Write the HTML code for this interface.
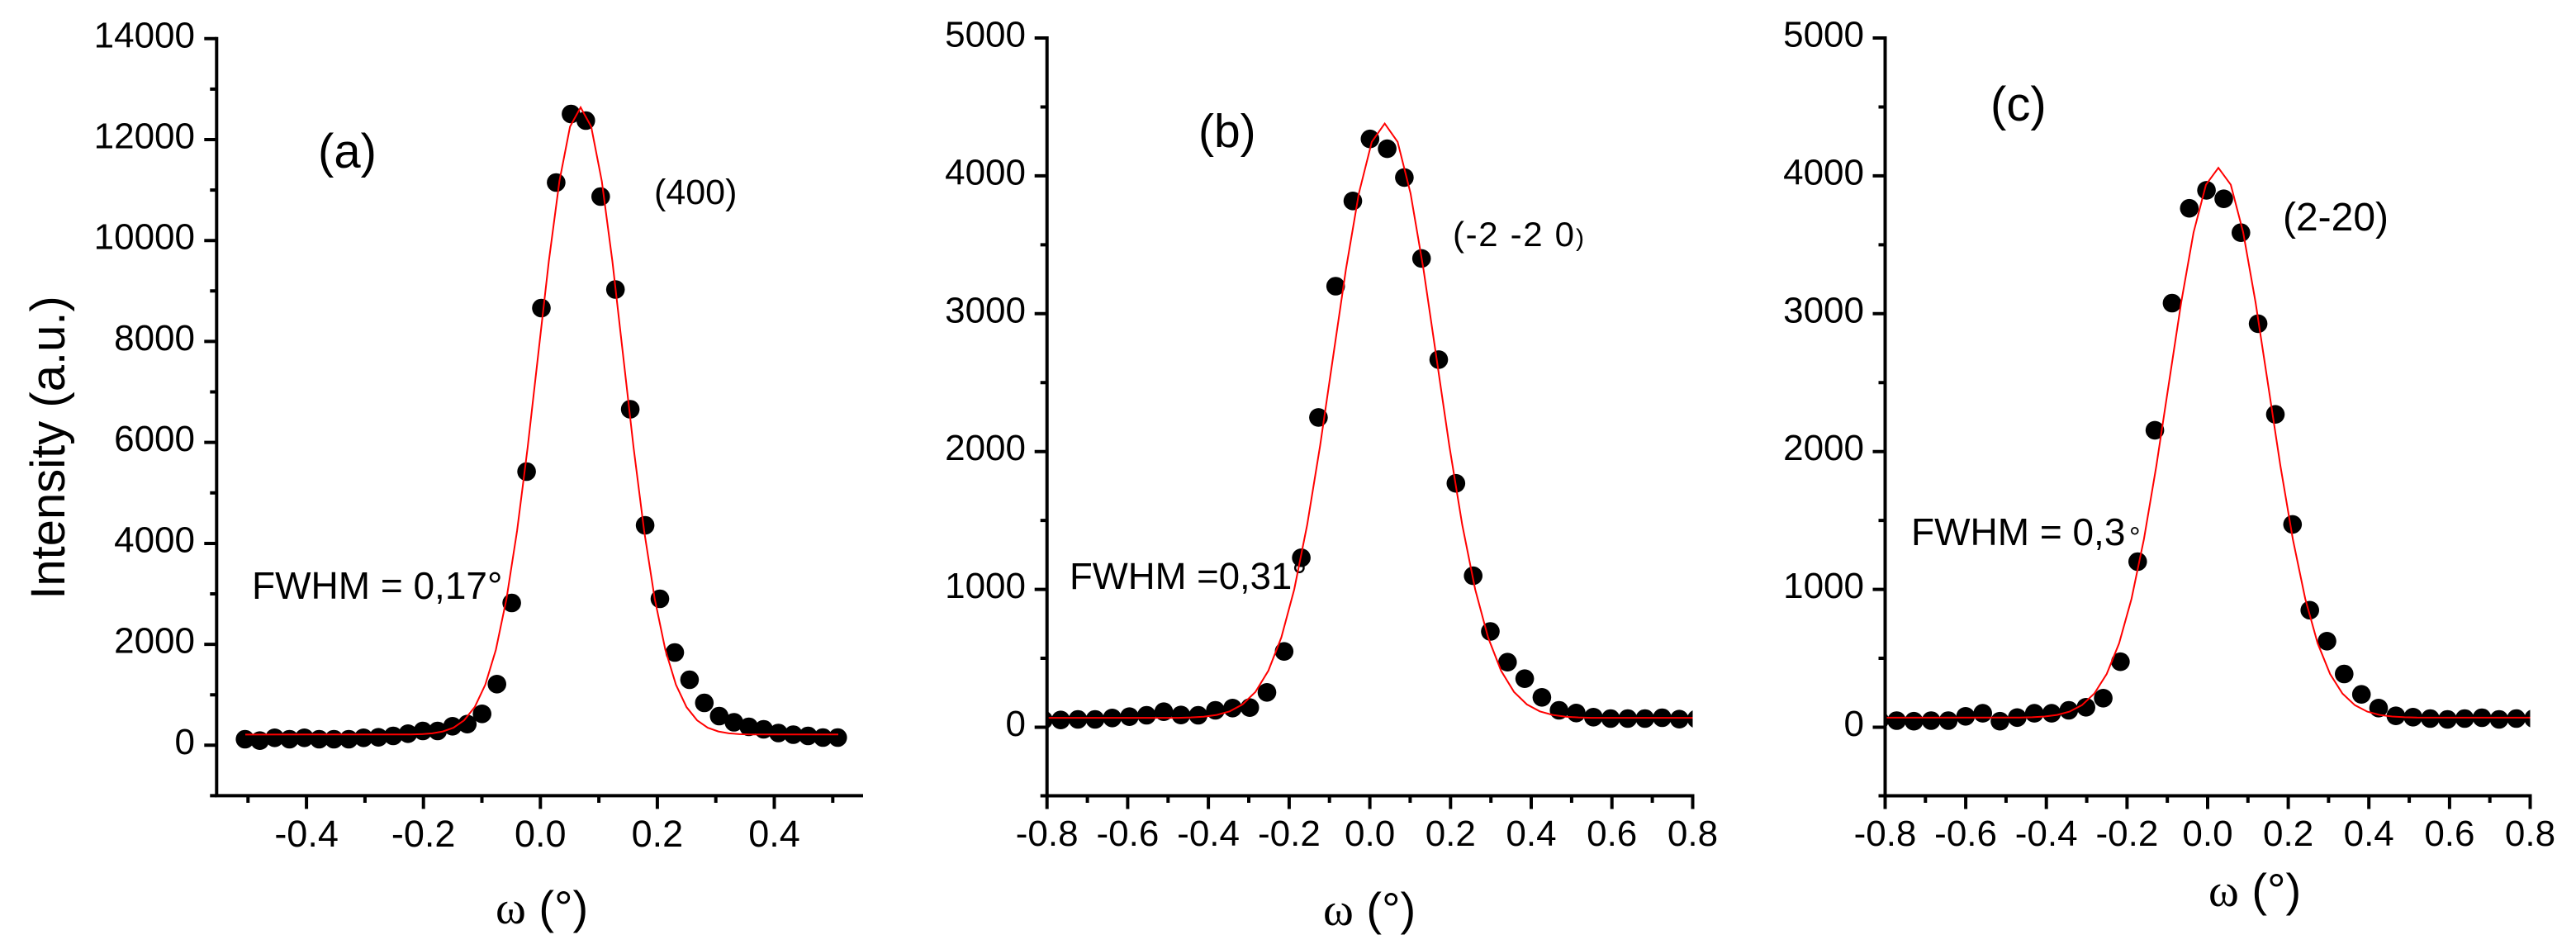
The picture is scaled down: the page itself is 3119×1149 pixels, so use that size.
<!DOCTYPE html>
<html><head><meta charset="utf-8"><style>
html,body{margin:0;padding:0;background:#fff;}
svg{display:block;}
text{font-family:"Liberation Sans",Arial,sans-serif;fill:#000;}
.s{font-family:"Liberation Serif","Times New Roman",serif;}
</style></head><body>
<svg width="3119" height="1149" viewBox="0 0 3119 1149" xmlns="http://www.w3.org/2000/svg">
<rect width="3119" height="1149" fill="#fff"/>
<defs>
<clipPath id="ca"><rect x="297" y="40" width="718" height="924"/></clipPath>
<clipPath id="cb"><rect x="1267.7" y="40" width="781.8" height="923.5"/></clipPath>
<clipPath id="cc"><rect x="2282.5" y="40" width="781" height="923.5"/></clipPath>
</defs>

<!-- ================= PANEL A ================= -->
<g font-size="44" text-anchor="end">
<text x="236" y="912.8">0</text>
<text x="236" y="790.6">2000</text>
<text x="236" y="668.5">4000</text>
<text x="236" y="546.1">6000</text>
<text x="236" y="423.9">8000</text>
<text x="236" y="301.7">10000</text>
<text x="236" y="179.5">12000</text>
<text x="236" y="57.3">14000</text>
</g>
<g font-size="45" text-anchor="middle">
<text x="371.1" y="1025">-0.4</text>
<text x="512.7" y="1025">-0.2</text>
<text x="654.3" y="1025">0.0</text>
<text x="795.9" y="1025">0.2</text>
<text x="937.5" y="1025">0.4</text>
</g>
<text font-size="58" text-anchor="middle" transform="translate(78,542) rotate(-90)">Intensity (a.u.)</text>
<text x="600" y="1118" font-size="56"><tspan class="s">ω</tspan> (°)</text>
<text x="385" y="203" font-size="58">(a)</text>
<text x="792" y="247" font-size="43">(400)</text>
<text x="305" y="725" font-size="46">FWHM = 0,17°</text>

<g fill="#000">
<circle cx="296.7" cy="895" r="11.3"/><circle cx="314.6" cy="896.7" r="11.3"/><circle cx="332.6" cy="893.3" r="11.3"/><circle cx="350.5" cy="895" r="11.3"/><circle cx="368.5" cy="893.3" r="11.3"/><circle cx="386.4" cy="895" r="11.3"/><circle cx="404.3" cy="895" r="11.3"/><circle cx="422.3" cy="895" r="11.3"/><circle cx="440.2" cy="893.3" r="11.3"/><circle cx="458.2" cy="892.7" r="11.3"/><circle cx="476.1" cy="891" r="11.3"/><circle cx="494" cy="888.3" r="11.3"/><circle cx="512" cy="885" r="11.3"/><circle cx="529.9" cy="885" r="11.3"/><circle cx="547.9" cy="879.3" r="11.3"/><circle cx="565.8" cy="876.7" r="11.3"/><circle cx="583.7" cy="864.3" r="11.3"/><circle cx="601.7" cy="828.3" r="11.3"/><circle cx="619.6" cy="730" r="11.3"/><circle cx="637.6" cy="571" r="11.3"/><circle cx="655.5" cy="373" r="11.3"/><circle cx="673.4" cy="221" r="11.3"/><circle cx="691.4" cy="138" r="11.3"/><circle cx="709.3" cy="146" r="11.3"/><circle cx="727.3" cy="238" r="11.3"/><circle cx="745.2" cy="350.5" r="11.3"/><circle cx="763.1" cy="495.5" r="11.3"/><circle cx="781.1" cy="636" r="11.3"/><circle cx="799" cy="725" r="11.3"/><circle cx="817" cy="790" r="11.3"/><circle cx="834.9" cy="823" r="11.3"/><circle cx="852.8" cy="851" r="11.3"/><circle cx="870.8" cy="867" r="11.3"/><circle cx="888.7" cy="874.5" r="11.3"/><circle cx="906.7" cy="880" r="11.3"/><circle cx="924.6" cy="883" r="11.3"/><circle cx="942.5" cy="887.5" r="11.3"/><circle cx="960.5" cy="889.5" r="11.3"/><circle cx="978.4" cy="891" r="11.3"/><circle cx="996.4" cy="893" r="11.3"/><circle cx="1014.3" cy="893" r="11.3"/>
</g>
<g clip-path="url(#ca)">
<path fill="none" stroke="#ff0000" stroke-width="2" vector-effect="non-scaling-stroke" transform="translate(703,889.5) scale(51.3,-759.5)"
d="M-20,0 L-4,0.0003 -3.75,0.0009 -3.5,0.0022 -3.25,0.0051 -3,0.0111 -2.75,0.0228 -2.5,0.0439 -2.25,0.0796 -2,0.1353 -1.75,0.2163 -1.5,0.3247 -1.25,0.4578 -1,0.6065 -0.75,0.7548 -0.5,0.8825 -0.25,0.9692 0,1 0.25,0.9692 0.5,0.8825 0.75,0.7548 1,0.6065 1.25,0.4578 1.5,0.3247 1.75,0.2163 2,0.1353 2.25,0.0796 2.5,0.0439 2.75,0.0228 3,0.0111 3.25,0.0051 3.5,0.0022 3.75,0.0009 4,0.0003 20,0"/>
</g>
<g stroke="#000" stroke-width="4" fill="none">
<path d="M262.3,44.8V965.4M260.3,963.4H1045"/>
<path d="M247.3,902.3H262.3M247.3,780.1H262.3M247.3,658H262.3M247.3,535.6H262.3M247.3,413.4H262.3M247.3,291.2H262.3M247.3,169H262.3M247.3,46.8H262.3"/>
<path d="M254.3,963.4H262.3M254.3,841.2H262.3M254.3,719H262.3M254.3,596.8H262.3M254.3,474.5H262.3M254.3,352.3H262.3M254.3,230.1H262.3M254.3,107.9H262.3"/>
<path d="M371.1,963.4V979.4M512.7,963.4V979.4M654.3,963.4V979.4M795.9,963.4V979.4M937.5,963.4V979.4"/>
<path d="M300.3,963.4V972M441.9,963.4V972M583.5,963.4V972M725.1,963.4V972M866.7,963.4V972M1008.3,963.4V972"/>
</g>

<!-- ================= PANEL B ================= -->
<g font-size="44" text-anchor="end">
<text x="1242" y="891">0</text>
<text x="1242" y="724.1">1000</text>
<text x="1242" y="557.2">2000</text>
<text x="1242" y="390.3">3000</text>
<text x="1242" y="223.4">4000</text>
<text x="1242" y="56.5">5000</text>
</g>
<g font-size="44" text-anchor="middle">
<text x="1267.7" y="1024">-0.8</text>
<text x="1365.4" y="1024">-0.6</text>
<text x="1463.1" y="1024">-0.4</text>
<text x="1560.9" y="1024">-0.2</text>
<text x="1658.6" y="1024">0.0</text>
<text x="1756.3" y="1024">0.2</text>
<text x="1854" y="1024">0.4</text>
<text x="1951.7" y="1024">0.6</text>
<text x="2049.5" y="1024">0.8</text>
</g>
<text x="1602" y="1120" font-size="56"><tspan class="s">ω</tspan> (°)</text>
<text x="1451" y="178" font-size="57">(b)</text>
<text x="1759" y="298" font-size="42" textLength="147" lengthAdjust="spacing">(-2 -2 0</text>
<text x="1908" y="298" font-size="30">)</text>
<text x="1295" y="713" font-size="45.5">FWHM =0,31°</text>

<g fill="#000" clip-path="url(#cb)">
<circle cx="1263.5" cy="871.7" r="11.3"/><circle cx="1284.3" cy="871.7" r="11.3"/><circle cx="1305.1" cy="871" r="11.3"/><circle cx="1325.9" cy="871" r="11.3"/><circle cx="1346.7" cy="869.3" r="11.3"/><circle cx="1367.5" cy="867.7" r="11.3"/><circle cx="1388.3" cy="866" r="11.3"/><circle cx="1409.1" cy="861.7" r="11.3"/><circle cx="1429.9" cy="865.7" r="11.3"/><circle cx="1450.8" cy="866" r="11.3"/><circle cx="1471.6" cy="860" r="11.3"/><circle cx="1492.4" cy="857.3" r="11.3"/><circle cx="1513.2" cy="856.7" r="11.3"/><circle cx="1534" cy="838.3" r="11.3"/><circle cx="1554.8" cy="788.7" r="11.3"/><circle cx="1575.6" cy="675.3" r="11.3"/><circle cx="1596.4" cy="505.4" r="11.3"/><circle cx="1617.2" cy="346.5" r="11.3"/><circle cx="1638" cy="243.3" r="11.3"/><circle cx="1658.8" cy="168.2" r="11.3"/><circle cx="1679.6" cy="180.1" r="11.3"/><circle cx="1700.4" cy="214.9" r="11.3"/><circle cx="1721.2" cy="312.9" r="11.3"/><circle cx="1742" cy="435.4" r="11.3"/><circle cx="1762.8" cy="585.2" r="11.3"/><circle cx="1783.7" cy="697.1" r="11.3"/><circle cx="1804.5" cy="764.5" r="11.3"/><circle cx="1825.3" cy="801.7" r="11.3"/><circle cx="1846.1" cy="821.7" r="11.3"/><circle cx="1866.9" cy="844.3" r="11.3"/><circle cx="1887.7" cy="860" r="11.3"/><circle cx="1908.5" cy="863.3" r="11.3"/><circle cx="1929.3" cy="868.3" r="11.3"/><circle cx="1950.1" cy="870" r="11.3"/><circle cx="1970.9" cy="870" r="11.3"/><circle cx="1991.7" cy="870" r="11.3"/><circle cx="2012.5" cy="869" r="11.3"/><circle cx="2033.3" cy="870.7" r="11.3"/><circle cx="2054.1" cy="870.5" r="11.3"/>
</g>
<g clip-path="url(#cb)">
<path fill="none" stroke="#ff0000" stroke-width="2" vector-effect="non-scaling-stroke" transform="translate(1676.6,869.3) scale(62.6,-719.7)"
d="M-20,0 L-4,0.0003 -3.75,0.0009 -3.5,0.0022 -3.25,0.0051 -3,0.0111 -2.75,0.0228 -2.5,0.0439 -2.25,0.0796 -2,0.1353 -1.75,0.2163 -1.5,0.3247 -1.25,0.4578 -1,0.6065 -0.75,0.7548 -0.5,0.8825 -0.25,0.9692 0,1 0.25,0.9692 0.5,0.8825 0.75,0.7548 1,0.6065 1.25,0.4578 1.5,0.3247 1.75,0.2163 2,0.1353 2.25,0.0796 2.5,0.0439 2.75,0.0228 3,0.0111 3.25,0.0051 3.5,0.0022 3.75,0.0009 4,0.0003 20,0"/>
</g>
<g stroke="#000" stroke-width="4" fill="none">
<path d="M1267.7,44V979.5M1259.7,963.5H2051.5"/>
<path d="M1252.7,880.5H1267.7M1252.7,713.6H1267.7M1252.7,546.7H1267.7M1252.7,379.8H1267.7M1252.7,212.9H1267.7M1252.7,46H1267.7"/>
<path d="M1259.7,797.05H1267.7M1259.7,630.15H1267.7M1259.7,463.25H1267.7M1259.7,296.35H1267.7M1259.7,129.45H1267.7"/>
<path d="M1365.4,963.5V979.5M1463.1,963.5V979.5M1560.9,963.5V979.5M1658.6,963.5V979.5M1756.3,963.5V979.5M1854,963.5V979.5M1951.7,963.5V979.5M2049.5,963.5V979.5"/>
<path d="M1316.6,963.5V972M1414.3,963.5V972M1512,963.5V972M1609.7,963.5V972M1707.4,963.5V972M1805.2,963.5V972M1902.9,963.5V972M2000.6,963.5V972"/>
</g>

<!-- ================= PANEL C ================= -->
<g font-size="44" text-anchor="end">
<text x="2257" y="891">0</text>
<text x="2257" y="724.1">1000</text>
<text x="2257" y="557.2">2000</text>
<text x="2257" y="390.3">3000</text>
<text x="2257" y="223.4">4000</text>
<text x="2257" y="56.5">5000</text>
</g>
<g font-size="44" text-anchor="middle">
<text x="2282.5" y="1024">-0.8</text>
<text x="2380.1" y="1024">-0.6</text>
<text x="2477.7" y="1024">-0.4</text>
<text x="2575.4" y="1024">-0.2</text>
<text x="2673" y="1024">0.0</text>
<text x="2770.6" y="1024">0.2</text>
<text x="2868.2" y="1024">0.4</text>
<text x="2965.9" y="1024">0.6</text>
<text x="3063.5" y="1024">0.8</text>
</g>
<text x="2674" y="1097" font-size="56"><tspan class="s">ω</tspan> (°)</text>
<text x="2410" y="146" font-size="58">(c)</text>
<text x="2764" y="279" font-size="48">(2-20)</text>
<text x="2314" y="660" font-size="46">FWHM = 0,3</text>
<text x="2578" y="662" font-size="34">°</text>

<g fill="#000" clip-path="url(#cc)">
<circle cx="2275.7" cy="872" r="11.3"/><circle cx="2296.5" cy="872.5" r="11.3"/><circle cx="2317.3" cy="873.2" r="11.3"/><circle cx="2338.2" cy="872.5" r="11.3"/><circle cx="2359" cy="872.5" r="11.3"/><circle cx="2379.9" cy="867.3" r="11.3"/><circle cx="2400.7" cy="863.6" r="11.3"/><circle cx="2421.5" cy="873.2" r="11.3"/><circle cx="2442.4" cy="868.8" r="11.3"/><circle cx="2463.2" cy="863.6" r="11.3"/><circle cx="2484.1" cy="863.6" r="11.3"/><circle cx="2504.9" cy="860" r="11.3"/><circle cx="2525.7" cy="856.3" r="11.3"/><circle cx="2546.6" cy="845.3" r="11.3"/><circle cx="2567.4" cy="801.2" r="11.3"/><circle cx="2588.3" cy="680" r="11.3"/><circle cx="2609.1" cy="520.9" r="11.3"/><circle cx="2629.9" cy="367" r="11.3"/><circle cx="2650.8" cy="252.2" r="11.3"/><circle cx="2671.6" cy="230.4" r="11.3"/><circle cx="2692.5" cy="240.7" r="11.3"/><circle cx="2713.3" cy="281.7" r="11.3"/><circle cx="2734.1" cy="391.9" r="11.3"/><circle cx="2755" cy="501.7" r="11.3"/><circle cx="2775.8" cy="634.9" r="11.3"/><circle cx="2796.7" cy="738.8" r="11.3"/><circle cx="2817.5" cy="776.3" r="11.3"/><circle cx="2838.3" cy="816" r="11.3"/><circle cx="2859.2" cy="840.7" r="11.3"/><circle cx="2880" cy="857.3" r="11.3"/><circle cx="2900.9" cy="866.7" r="11.3"/><circle cx="2921.7" cy="868.3" r="11.3"/><circle cx="2942.5" cy="870" r="11.3"/><circle cx="2963.4" cy="871" r="11.3"/><circle cx="2984.2" cy="870" r="11.3"/><circle cx="3005.1" cy="869" r="11.3"/><circle cx="3025.9" cy="871" r="11.3"/><circle cx="3046.7" cy="870" r="11.3"/><circle cx="3067.6" cy="870" r="11.3"/>
</g>
<g clip-path="url(#cc)">
<path fill="none" stroke="#ff0000" stroke-width="2" vector-effect="non-scaling-stroke" transform="translate(2686,869) scale(60.1,-665.8)"
d="M-20,0 L-4,0.0003 -3.75,0.0009 -3.5,0.0022 -3.25,0.0051 -3,0.0111 -2.75,0.0228 -2.5,0.0439 -2.25,0.0796 -2,0.1353 -1.75,0.2163 -1.5,0.3247 -1.25,0.4578 -1,0.6065 -0.75,0.7548 -0.5,0.8825 -0.25,0.9692 0,1 0.25,0.9692 0.5,0.8825 0.75,0.7548 1,0.6065 1.25,0.4578 1.5,0.3247 1.75,0.2163 2,0.1353 2.25,0.0796 2.5,0.0439 2.75,0.0228 3,0.0111 3.25,0.0051 3.5,0.0022 3.75,0.0009 4,0.0003 20,0"/>
</g>
<g stroke="#000" stroke-width="4" fill="none">
<path d="M2282.5,44V979.5M2274.5,963.5H3065.5"/>
<path d="M2267.5,880.5H2282.5M2267.5,713.6H2282.5M2267.5,546.7H2282.5M2267.5,379.8H2282.5M2267.5,212.9H2282.5M2267.5,46H2282.5"/>
<path d="M2274.5,797.05H2282.5M2274.5,630.15H2282.5M2274.5,463.25H2282.5M2274.5,296.35H2282.5M2274.5,129.45H2282.5"/>
<path d="M2380.1,963.5V979.5M2477.7,963.5V979.5M2575.4,963.5V979.5M2673,963.5V979.5M2770.6,963.5V979.5M2868.2,963.5V979.5M2965.9,963.5V979.5M3063.5,963.5V979.5"/>
<path d="M2331.3,963.5V972M2428.9,963.5V972M2526.6,963.5V972M2624.2,963.5V972M2721.8,963.5V972M2819.4,963.5V972M2917.1,963.5V972M3014.7,963.5V972"/>
</g>
</svg>
</body></html>
